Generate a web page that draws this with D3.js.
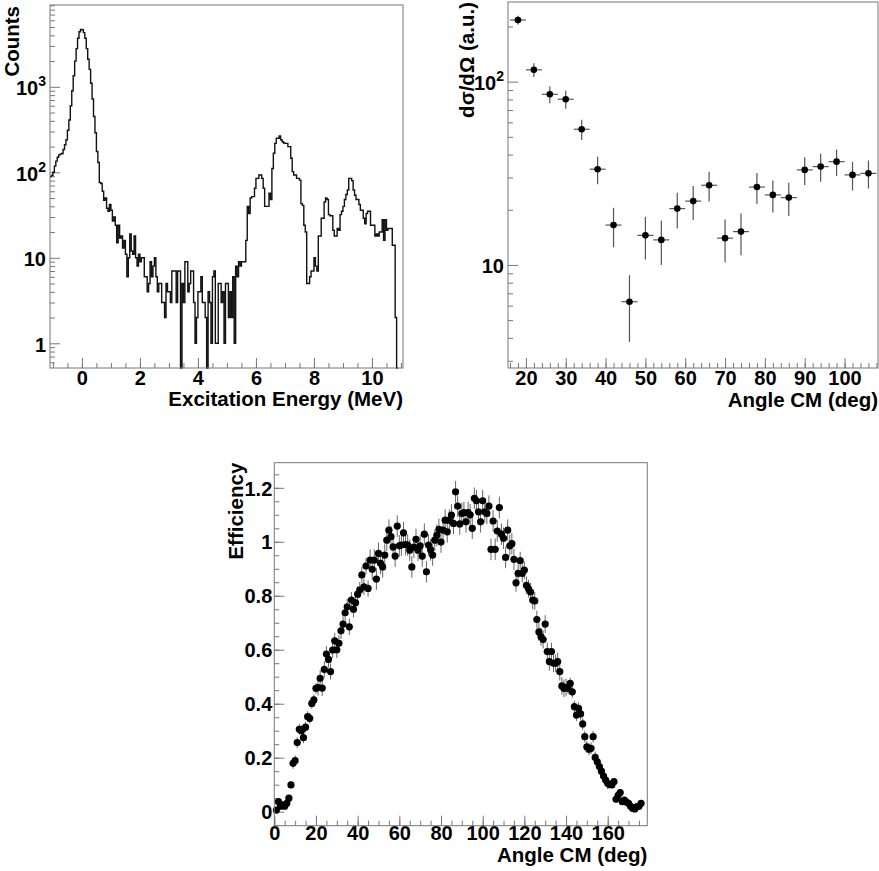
<!DOCTYPE html>
<html>
<head>
<meta charset="utf-8">
<script src="https://cdn.jsdelivr.net/npm/d3@7"></script>
<style>
  body { margin: 0; background: #fff; }
  text { font-family: "Liberation Sans", Arial, Helvetica, sans-serif; font-weight: bold; fill: #000; }
  .tick text { font-size: 20px; }
  .tick line { stroke: #777; }
  .frame { fill: none; stroke: #777; stroke-width: 1; }
  .title { font-size: 20.5px; }
</style>
</head>
<body>
<svg width="879" height="871"></svg>
<script>
// ---- data: excitation energy spectrum (bin width 0.05 MeV starting at -1.1 MeV)
const E_START = -1.1;
const E_BIN = 0.05;
const counts = [
  89, 92, 100, 118, 135, 150, 160, 163, 166, 185, 210, 240, 310, 410, 600, 900, 1350, 2000, 2800, 3700,
  4400, 4700, 4650, 4300, 3700, 2800, 2100, 1600, 1100, 720, 450, 290, 175, 130, 76, 74, 60, 47, 50, 38,
  35, 42, 36, 27, 30, 24, 15, 24, 17, 18, 13, 16, 11, 6, 10, 19, 12, 11, 18, 10,
  8, 11, 9, 10, 10, 6, 6, 4, 5, 9, 6, 8, 10, 6, 4, 5, 5, 3, 3, 2,
  5, 4, 4, 3, 7, 7, 7, 3, 7, 7, 0, 5, 3, 9, 9, 4, 5, 7, 7, 3,
  1, 2, 4, 4, 6, 3, 3, 2, 0, 4, 3, 1, 6, 7, 1, 1, 5, 5, 3, 4,
  1, 5, 5, 2, 4, 2, 6, 1, 8, 6, 9, 8, 9, 9, 9, 16, 40, 33, 50, 52,
  52, 65, 85, 85, 93, 93, 85, 65, 40, 40, 40, 57, 48, 111, 167, 218, 250, 250, 266, 240,
  228, 220, 218, 218, 200, 200, 146, 102, 93, 93, 85, 85, 81, 43, 41, 24, 20, 5, 5, 6,
  7, 7, 10, 8, 7, 18, 18, 29, 29, 45, 50, 48, 32, 31, 31, 21, 18, 18, 22, 21,
  32, 35, 40, 48, 55, 62, 85, 85, 80, 62, 54, 48, 48, 42, 36, 36, 29, 25, 33, 35,
  35, 24, 24, 24, 18, 19, 18, 20, 20, 28, 16, 28, 21, 22, 22, 22, 14, 14, 2, 0
];
const energyTicks = [0, 2, 4, 6, 8, 10];
const countTicks = [1, 10, 100, 1000];

// ---- data: angular distribution
const xsAngle = [18, 22, 26, 30, 34, 38, 42, 46, 50, 54, 58, 62, 66, 70, 74, 78, 82, 86, 90, 94, 98, 102, 106];
const xsValue = [217, 116, 85.3, 80.2, 55, 33.3, 16.5, 6.3, 14.5, 13.7, 20.3, 22.3, 27.2, 14.0, 15.2, 26.6, 24.1, 23.3, 33, 34.4, 36.6, 31, 31.6];
const xsError = [12, 10, 9, 9, 7, 5.7, 4, 2.5, 3.8, 3.7, 4.5, 4.7, 5, 3.7, 3.9, 5.1, 4.8, 4.8, 5.7, 6, 6, 5.5, 5.5];
const xsAngleHalfBin = 2;
const xsAngleTicks = [20, 30, 40, 50, 60, 70, 80, 90, 100];
const xsValueTicks = [10, 100];

// ---- data: efficiency, one point per degree from 1 to 176
const effAngle = d3.range(1, 177);
const effValue = [
  0.006, 0.037, 0.02, 0.025, 0.02, 0.031, 0.05, 0.099, 0.179, 0.189,
  0.256, 0.305, 0.30, 0.274, 0.313, 0.352, 0.346, 0.401, 0.414, 0.457,
  0.46, 0.494, 0.458, 0.527, 0.584, 0.564, 0.519, 0.599, 0.633, 0.60,
  0.624, 0.670, 0.695, 0.737, 0.759, 0.685, 0.784, 0.75, 0.774, 0.806,
  0.821, 0.877, 0.833, 0.91, 0.827, 0.932, 0.898, 0.932, 0.862, 0.957,
  0.92, 0.907, 0.951, 1.006, 1.043, 1.019, 0.981, 0.947, 1.058, 0.985,
  0.988, 1.033, 0.99, 0.988, 0.969, 0.907, 0.98, 1.009, 0.969, 0.985,
  0.947, 1.028, 0.889, 0.988, 0.97, 0.951, 1.006, 1.024, 1.046, 0.999,
  1.043, 1.08, 1.037, 1.08, 1.099, 1.068, 1.185, 1.132, 1.066, 1.105,
  1.108, 1.074, 1.108, 1.10, 1.05, 1.161, 1.152, 1.111, 1.074, 1.152,
  1.111, 1.105, 1.132, 0.972, 1.077, 0.972, 1.04, 1.127, 1.028, 1.013,
  0.942, 1.043, 0.985, 0.993, 0.935, 0.848, 0.883, 0.930, 0.883, 0.895,
  0.839, 0.826, 0.814, 0.784, 0.781, 0.712, 0.666, 0.648, 0.638, 0.695,
  0.593, 0.556, 0.593, 0.55, 0.55, 0.556, 0.519, 0.466, 0.457, 0.46,
  0.457, 0.475, 0.444, 0.389, 0.358, 0.383, 0.362, 0.325, 0.278, 0.24,
  0.231, 0.235, 0.278, 0.201, 0.185, 0.167, 0.15, 0.132, 0.117, 0.105,
  0.10, 0.099, 0.111, 0.046, 0.06, 0.071, 0.037, 0.043, 0.035, 0.031,
  0.02, 0.012, 0.01, 0.019, 0.02, 0.031
];
const effError = [
  0.012, 0.012, 0.012, 0.012, 0.012, 0.012, 0.012, 0.012, 0.02, 0.02,
  0.02, 0.02, 0.02, 0.02, 0.02, 0.02, 0.02, 0.02, 0.02, 0.02,
  0.03, 0.03, 0.03, 0.03, 0.03, 0.03, 0.03, 0.03, 0.03, 0.03,
  0.03, 0.03, 0.03, 0.03, 0.03, 0.03, 0.03, 0.03, 0.03, 0.03,
  0.03, 0.03, 0.03, 0.03, 0.03, 0.04, 0.04, 0.04, 0.04, 0.04,
  0.04, 0.04, 0.04, 0.04, 0.04, 0.04, 0.04, 0.04, 0.04, 0.04,
  0.04, 0.04, 0.04, 0.04, 0.04, 0.04, 0.04, 0.04, 0.04, 0.04,
  0.04, 0.04, 0.04, 0.04, 0.04, 0.04, 0.04, 0.04, 0.04, 0.04,
  0.04, 0.04, 0.04, 0.04, 0.04, 0.04, 0.04, 0.04, 0.04, 0.04,
  0.04, 0.04, 0.04, 0.04, 0.04, 0.04, 0.04, 0.04, 0.04, 0.04,
  0.04, 0.04, 0.04, 0.04, 0.04, 0.04, 0.04, 0.04, 0.04, 0.04,
  0.04, 0.04, 0.04, 0.04, 0.04, 0.033, 0.033, 0.033, 0.033, 0.033,
  0.033, 0.033, 0.033, 0.033, 0.033, 0.033, 0.033, 0.033, 0.033, 0.033,
  0.033, 0.033, 0.033, 0.033, 0.033, 0.033, 0.033, 0.033, 0.033, 0.033,
  0.022, 0.022, 0.022, 0.022, 0.022, 0.022, 0.022, 0.022, 0.022, 0.022,
  0.022, 0.022, 0.022, 0.022, 0.022, 0.022, 0.022, 0.022, 0.022, 0.022,
  0.012, 0.012, 0.012, 0.012, 0.012, 0.012, 0.012, 0.012, 0.012, 0.012,
  0.012, 0.012, 0.012, 0.012, 0.012, 0.012
];
const effAngleTicks = [0, 20, 40, 60, 80, 100, 120, 140, 160];
const effValueTicks = [0, 0.2, 0.4, 0.6, 0.8, 1, 1.2];

const svg = d3.select("svg");
const MAJOR = 10, MINOR = 5;

// minor ticks for a log axis: 2..9 of every decade inside the domain
function logMinors(scale) {
  const [lo, hi] = scale.domain();
  const out = [];
  for (let d = Math.pow(10, Math.floor(Math.log10(lo))); d <= hi; d *= 10) {
    for (let m = 2; m <= 9; m++) {
      const v = d * m;
      if (v >= lo && v <= hi) out.push(v);
    }
  }
  return out;
}

function linMinors(scale, step) {
  const [lo, hi] = scale.domain();
  return d3.range(Math.ceil(lo / step) * step, hi + 1e-9, step);
}

function axis(g, fn, scale, values, size, pad, fmt, transform) {
  const a = g.append("g")
    .attr("transform", transform || null)
    .call(fn(scale).tickValues(values).tickSize(size).tickPadding(pad).tickFormat(fmt || (() => "")));
  a.select(".domain").remove();
  return a;
}

// "10", "10^2", "10^3" style labels
function powerLabels(a) {
  a.selectAll(".tick text").each(function (d) {
    const e = Math.round(Math.log10(d));
    const t = d3.select(this).attr("dy", "0.4em");
    if (e >= 2) {
      t.text("10");
      t.append("tspan").attr("dy", -9).attr("font-size", 14).text(e);
    } else {
      t.text(d);
    }
  });
}

// ---------------- Panel 1: excitation energy ----------------
{
  const left = 50, top = 5, w = 353, h = 363;
  const g = svg.append("g").attr("transform", `translate(${left}, ${top})`);
  const x = d3.scaleLinear().domain([-1.1, 11.07]).range([0, w]);
  const y = d3.scaleLog().domain([0.514, 9060]).range([h, 0]);

  axis(g, d3.axisBottom, x, linMinors(x, 0.5), -MINOR, 0, null, `translate(0, ${h})`);
  axis(g, d3.axisBottom, x, energyTicks, -MAJOR, 3, d => d, `translate(0, ${h})`);
  axis(g, d3.axisLeft, y, logMinors(y), -MINOR, 0);
  powerLabels(axis(g, d3.axisLeft, y, countTicks, -MAJOR, 4, d => d));

  const lo = y.domain()[0];
  const pts = counts.map((c, i) => [E_START + i * E_BIN, Math.max(c, lo)]);
  pts.push([E_START + counts.length * E_BIN, Math.max(counts[counts.length - 1], lo)]);
  pts.push([E_START + counts.length * E_BIN, lo]);
  const line = d3.line().x(d => x(d[0])).y(d => y(d[1])).curve(d3.curveStepAfter);
  g.append("path").attr("d", line(pts))
    .attr("fill", "none").attr("stroke", "#111").attr("stroke-width", 1.4);

  g.append("rect").attr("class", "frame").attr("width", w).attr("height", h);

  svg.append("text").attr("class", "title")
    .attr("x", left + w).attr("y", 406).attr("text-anchor", "end")
    .text("Excitation Energy (MeV)");
  svg.append("text").attr("class", "title")
    .attr("transform", `translate(19, ${top + 1}) rotate(-90)`)
    .attr("text-anchor", "end").text("Counts");
}

// ---------------- Panel 2: differential cross section ----------------
{
  const left = 508, top = 2, w = 370, h = 366;
  const g = svg.append("g").attr("transform", `translate(${left}, ${top})`);
  const x = d3.scaleLinear().domain([15.5, 108.4]).range([0, w]);
  const y = d3.scaleLog().domain([2.74, 272]).range([h, 0]);

  axis(g, d3.axisBottom, x, linMinors(x, 2), -MINOR, 0, null, `translate(0, ${h})`);
  axis(g, d3.axisBottom, x, xsAngleTicks, -MAJOR, 3, d => d, `translate(0, ${h})`);
  axis(g, d3.axisLeft, y, logMinors(y), -MINOR, 0);
  powerLabels(axis(g, d3.axisLeft, y, xsValueTicks, -MAJOR, 4, d => d));

  const data = xsAngle.map((a, i) => ({ a, v: xsValue[i], e: xsError[i] }));
  const bars = g.append("g").attr("stroke", "#555").attr("stroke-width", 1.2);
  bars.selectAll(".v").data(data).enter().append("line")
    .attr("x1", d => x(d.a)).attr("x2", d => x(d.a))
    .attr("y1", d => y(d.v - d.e)).attr("y2", d => y(d.v + d.e));
  bars.selectAll(".h").data(data).enter().append("line")
    .attr("x1", d => x(d.a - xsAngleHalfBin)).attr("x2", d => x(d.a + xsAngleHalfBin))
    .attr("y1", d => y(d.v)).attr("y2", d => y(d.v));
  g.selectAll("circle").data(data).enter().append("circle")
    .attr("cx", d => x(d.a)).attr("cy", d => y(d.v)).attr("r", 3.3).attr("fill", "#000");

  g.append("rect").attr("class", "frame").attr("width", w).attr("height", h);

  svg.append("text").attr("class", "title")
    .attr("x", left + w).attr("y", 407).attr("text-anchor", "end")
    .text("Angle CM (deg)");
  svg.append("text").attr("class", "title")
    .attr("transform", `translate(474, ${top}) rotate(-90)`)
    .attr("text-anchor", "end").text("dσ/dΩ (a.u.)");
}

// ---------------- Panel 3: efficiency ----------------
{
  const left = 274.3, top = 462.7, w = 373, h = 363;
  const g = svg.append("g").attr("transform", `translate(${left}, ${top})`);
  const x = d3.scaleLinear().domain([0, 179]).range([0, w]);
  const y = d3.scaleLinear().domain([-0.052, 1.293]).range([h, 0]);

  axis(g, d3.axisBottom, x, linMinors(x, 5), -MINOR, 0, null, `translate(0, ${h})`);
  axis(g, d3.axisBottom, x, effAngleTicks, -MAJOR, 0, d => d, `translate(0, ${h})`);
  axis(g, d3.axisLeft, y, linMinors(y, 0.05), -MINOR, 0);
  axis(g, d3.axisLeft, y, effValueTicks, -MAJOR, 2, d => d3.format("~g")(d))
    .selectAll(".tick text").attr("dy", "0.36em");

  const data = effAngle.map((a, i) => ({ a, v: effValue[i], e: effError[i] }));
  g.append("g").attr("stroke", "#666").attr("stroke-width", 1)
    .selectAll("line").data(data).enter().append("line")
    .attr("x1", d => x(d.a)).attr("x2", d => x(d.a))
    .attr("y1", d => y(d.v - d.e)).attr("y2", d => y(d.v + d.e));
  g.append("g").selectAll("circle").data(data).enter().append("circle")
    .attr("cx", d => x(d.a)).attr("cy", d => y(d.v)).attr("r", 3.6).attr("fill", "#000");

  g.append("rect").attr("class", "frame").attr("width", w).attr("height", h);

  svg.append("text").attr("class", "title")
    .attr("x", left + w).attr("y", 862).attr("text-anchor", "end")
    .text("Angle CM (deg)");
  svg.append("text").attr("class", "title")
    .attr("transform", `translate(243, ${top}) rotate(-90)`)
    .attr("text-anchor", "end").text("Efficiency");
}
</script>
</body>
</html>
